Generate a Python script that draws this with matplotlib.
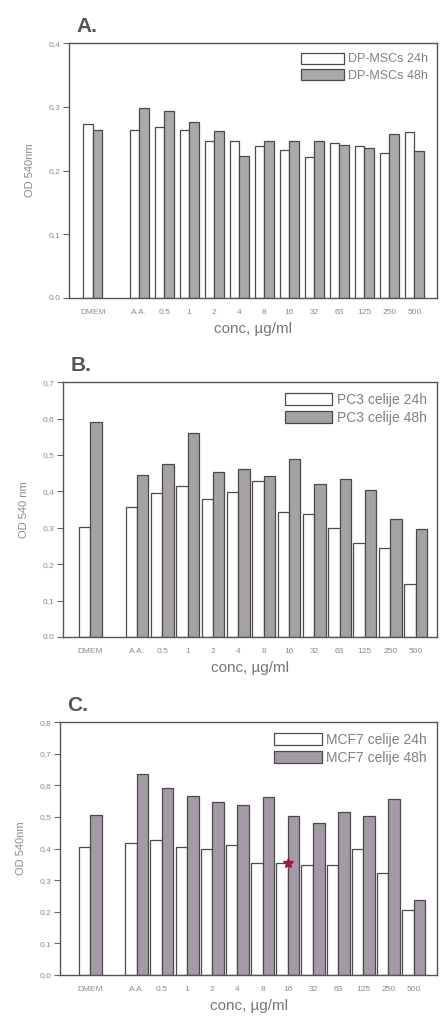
import numpy as np
import matplotlib
matplotlib.use("Agg")
import matplotlib.pyplot as plt

plt.rcParams["font.family"] = ["Liberation Sans", "DejaVu Sans"]

categories = ["DMEM", "A.A.", "0.5", "1", "2", "4", "8", "16", "32", "63", "125", "250", "500"]

a_24h = [0.273, 0.264, 0.269, 0.264, 0.246, 0.246, 0.239, 0.232, 0.222, 0.244, 0.239, 0.227, 0.260]
a_48h = [0.264, 0.299, 0.294, 0.277, 0.262, 0.223, 0.247, 0.246, 0.246, 0.240, 0.236, 0.257, 0.230]

b_24h = [0.302, 0.357, 0.395, 0.414, 0.378, 0.397, 0.428, 0.343, 0.337, 0.300, 0.259, 0.245, 0.146]
b_48h = [0.592, 0.446, 0.476, 0.561, 0.453, 0.462, 0.441, 0.488, 0.421, 0.435, 0.403, 0.323, 0.297]

c_24h = [0.405, 0.419, 0.426, 0.405, 0.398, 0.411, 0.355, 0.355, 0.349, 0.347, 0.398, 0.324, 0.205]
c_48h = [0.508, 0.635, 0.593, 0.568, 0.549, 0.539, 0.563, 0.502, 0.481, 0.516, 0.502, 0.558, 0.237]

# DMEM sits apart from the concentration series
xpos = np.array([0.0] + [1.85 + i for i in range(len(categories) - 1)])

panels = [
    dict(letter="A.", d24=a_24h, d48=a_48h, names=["DP-MSCs 24h", "DP-MSCs 48h"],
         ylabel="OD 540nm", ymax=0.4, rect=[0.156, 0.7076, 0.835, 0.250],
         xlim=(-0.96, 13.76), width=0.38, gray="#a9a9a9", legfs=9,
         yticklabels=["0.0", "0,1", "0,2", "0,3", "0,4"]),
    dict(letter="B.", d24=b_24h, d48=b_48h, names=["PC3 celije 24h", "PC3 celije 48h"],
         ylabel="OD 540 nm", ymax=0.7, rect=[0.143, 0.3749, 0.848, 0.250],
         xlim=(-1.07, 13.7), width=0.45, gray="#a5a1a5", legfs=10,
         yticklabels=["0.0", "0,1", "0,2", "0,3", "0,4", "0,5", "0,6", "0,7"]),
    dict(letter="C.", d24=c_24h, d48=c_48h, names=["MCF7 celije 24h", "MCF7 celije 48h"],
         ylabel="OD 540nm", ymax=0.8, rect=[0.136, 0.0432, 0.855, 0.248],
         xlim=(-1.2, 13.78), width=0.46, gray="#a49aa6", legfs=10,
         yticklabels=["0,0", "0,1", "0,2", "0,3", "0,4", "0,5", "0,6", "0,7", "0,8"]),
]

fig = plt.figure(figsize=(4.41, 10.19), dpi=100)
edge = "#4a4a4a"
txt = "#8a8a8a"

for p in panels:
    ax = fig.add_axes(p["rect"])
    w = p["width"]
    ax.bar(xpos - w / 2, p["d24"], width=w, color="white", edgecolor=edge,
           linewidth=0.9, label=p["names"][0])
    ax.bar(xpos + w / 2, p["d48"], width=w, color=p["gray"], edgecolor=edge,
           linewidth=0.9, label=p["names"][1])
    ax.set_xlim(*p["xlim"])
    ax.set_ylim(0, p["ymax"])
    ax.set_yticks(np.arange(len(p["yticklabels"])) * 0.1)
    ax.set_yticklabels(p["yticklabels"], fontsize=6, color=txt)
    ax.set_xticks(xpos)
    ax.set_xticklabels(categories, fontsize=6, color=txt)
    ax.tick_params(axis="x", length=0, pad=8)
    ax.tick_params(axis="y", length=4, width=0.8, color="#666666", pad=2)
    for s in ax.spines.values():
        s.set_color("#555555")
        s.set_linewidth(1.0)
    ax.set_ylabel(p["ylabel"], fontsize=8, color=txt, labelpad=10)
    ax.set_xlabel("conc, \u00b5g/ml", fontsize=11, color="#777777", labelpad=4)
    ax.text(0.02, 1.03, p["letter"], transform=ax.transAxes, fontsize=15,
            fontweight="bold", color="#555555", ha="left", va="bottom")
    leg = ax.legend(loc="upper right", frameon=False, fontsize=p["legfs"],
                    handlelength=3.4, handleheight=1.0, handletextpad=0.3,
                    labelspacing=0.3, borderaxespad=0.35)
    for t in leg.get_texts():
        t.set_color("#808080")

# small red mark drawn on panel C at the 16 ug/ml bars
fig.axes[2].plot([xpos[7]], [c_24h[7]], marker="*", color="#b0103a", markersize=7)

fig.savefig("out.png", dpi=100)
